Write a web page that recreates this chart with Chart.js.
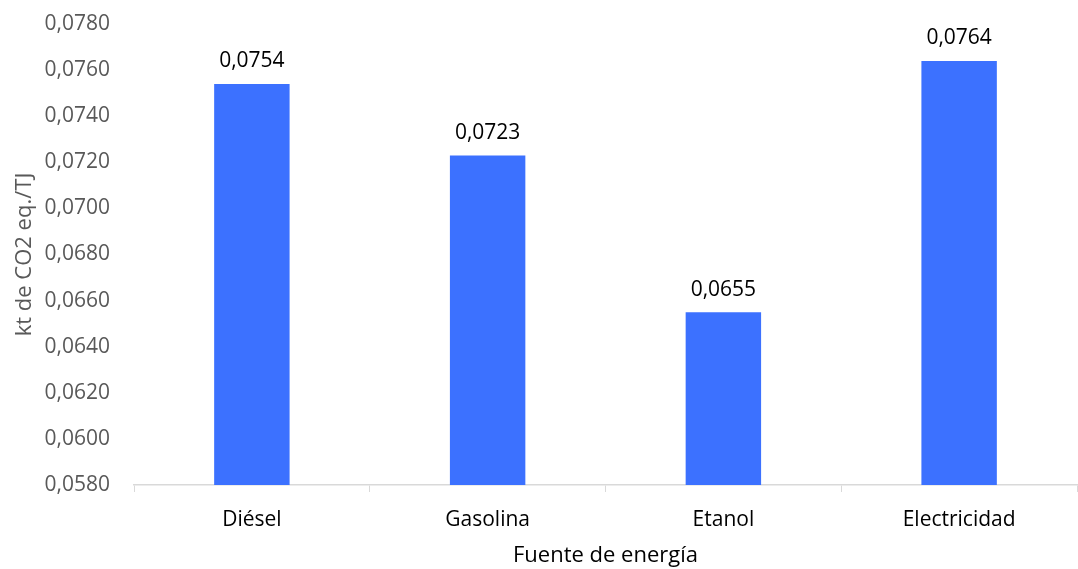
<!DOCTYPE html>
<html>
<head>
<meta charset="utf-8">
<script src="https://cdn.jsdelivr.net/npm/chart.js@4/dist/chart.umd.min.js"></script>
<style>
  html, body { margin: 0; padding: 0; background: #fff; }
  #wrap { width: 1078px; height: 569px; }
</style>
</head>
<body>
<div id="wrap"><canvas id="chart"></canvas></div>
<script>
const fuentes = ["Diésel", "Gasolina", "Etanol", "Electricidad"];
const emisiones = [0.0754, 0.0723, 0.0655, 0.0764];
const yMin = 0.058;
const yMax = 0.078;
const yStep = 0.002;

const fmt = v => v.toFixed(4).replace(".", ",");

// value labels above each bar
const barLabels = {
  id: "barLabels",
  afterDatasetsDraw(chart) {
    const ctx = chart.ctx;
    const meta = chart.getDatasetMeta(0);
    ctx.save();
    ctx.font = "21px 'Open Sans'";
    ctx.fillStyle = "#000";
    ctx.textAlign = "center";
    ctx.textBaseline = "bottom";
    meta.data.forEach((bar, i) => {
      ctx.fillText(fmt(emisiones[i]), bar.x, bar.y - 12);
    });
    ctx.restore();
  }
};

new Chart(document.getElementById("chart"), {
  type: "bar",
  data: {
    labels: fuentes,
    datasets: [{
      data: emisiones,
      backgroundColor: "#3C71FF",
      barPercentage: 0.64,
      categoryPercentage: 0.5
    }]
  },
  options: {
    responsive: true,
    maintainAspectRatio: false,
    animation: false,
    layout: { padding: { top: 24, right: 1, left: 0, bottom: 0 } },
    plugins: { legend: { display: false }, tooltip: { enabled: false } },
    scales: {
      x: {
        grid: { display: true, offset: true, drawOnChartArea: false, tickLength: 7, color: "#d9d9d9" },
        border: { color: "#d9d9d9", width: 1.5 },
        ticks: { color: "#000", font: { family: "Open Sans", size: 21 }, padding: 15 },
        title: { display: true, text: "Fuente de energía", color: "#000", font: { family: "Open Sans", size: 22 }, padding: { top: 6, bottom: 0 } },
        afterFit(scale) { scale.height = 84; }
      },
      y: {
        min: yMin,
        max: yMax,
        grid: { display: false },
        border: { display: false },
        ticks: { stepSize: yStep, color: "#595959", font: { family: "Open Sans", size: 21 }, padding: 16, callback: v => fmt(v) },
        title: { display: true, text: "kt de CO2 eq./TJ", color: "#595959", font: { family: "Open Sans", size: 22 }, padding: { top: 12, bottom: 0 } },
        afterFit(scale) {
          scale.width = 134;
          scale.paddingTop = 0;
          scale.paddingBottom = 0;
        }
      }
    }
  },
  plugins: [barLabels]
});
</script>
</body>
</html>
